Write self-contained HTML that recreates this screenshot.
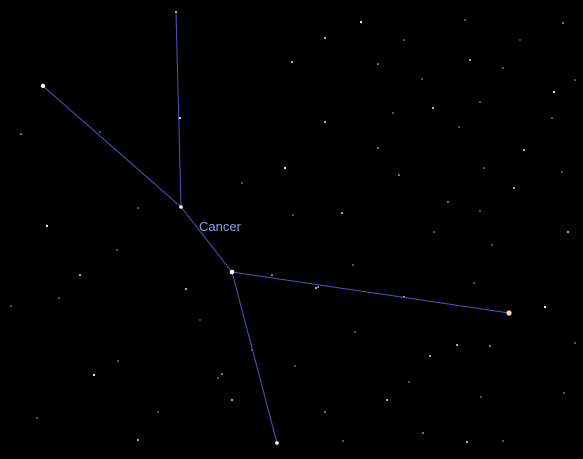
<!DOCTYPE html>
<html><head><meta charset="utf-8"><style>
html,body{margin:0;padding:0;background:#000;width:583px;height:459px;overflow:hidden}
svg{display:block}
</style></head><body>
<svg id="chart" width="583" height="459" viewBox="0 0 583 459">
<rect width="583" height="459" fill="#000"/>
<g id="bg"></g><g id="lines"></g><g id="main"></g>
<text x="199" y="231" font-family="Liberation Sans, sans-serif" font-size="13" fill="#8aa2ee">Cancer</text>
</svg>
<script>
const bgX=[361,465,404,325,563,520,470,503,378,292,422,575,554,480,393,433,21,100,325,459,378,524,552,242,285,484,562,514,399,293,342,480,448,568,434,492,47,138,117,80,272,59,186,353,318,404,474,11,545,200,355,457,490,575,430,295,222,387,409,481,94,564,158,232,325,37,467,503,423,138,343,118,180,252,218,316];
const bgY=[22,20,40,38,23,40,60,68,64,62,79,80,92,102,113,108,134,132,122,127,148,150,118,183,168,168,172,188,175,215,213,211,202,232,232,245,226,208,250,275,275,298,289,265,287,297,283,306,307,320,332,345,346,343,356,366,374,400,382,397,375,393,412,400,412,418,442,441,433,440,441,361,118,350,378,288];
const mainNames=['star-iota','star-gamma','star-delta','star-alpha','star-beta','star-top'];
const mainX=[43,181,232,509,277,176];
const mainY=[86,207,272,313,443,12];
const mainR=[2.2,1.8,2.3,2.6,1.8,1];
const mainColor=['#fff','#fff','#fff','#ffd9a0','#fff','#ddd'];
const edgeFrom=[0,5,1,2,2];
const edgeTo=[1,1,2,3,4];
const NS='http://www.w3.org/2000/svg';
const bg=document.getElementById('bg'),ln=document.getElementById('lines'),mn=document.getElementById('main');
for(let i=0;i<bgX.length;i++){
 const c=document.createElementNS(NS,'circle');
 c.setAttribute('cx',bgX[i]);c.setAttribute('cy',bgY[i]);c.setAttribute('r',i%3===0?1.1:0.8);
 c.setAttribute('fill',i%4===0?'#fff':'#bbb');
 
 
 bg.appendChild(c);
}
for(let i=0;i<edgeFrom.length;i++){
 const l=document.createElementNS(NS,'line');
 l.setAttribute('x1',mainX[edgeFrom[i]]);l.setAttribute('y1',mainY[edgeFrom[i]]);
 l.setAttribute('x2',mainX[edgeTo[i]]);l.setAttribute('y2',mainY[edgeTo[i]]);
 l.setAttribute('stroke','#4a55c8');l.setAttribute('stroke-width','1');
 
 
 ln.appendChild(l);
}
for(let i=0;i<mainX.length;i++){
 const c=document.createElementNS(NS,'circle');
 c.setAttribute('cx',mainX[i]);c.setAttribute('cy',mainY[i]);c.setAttribute('r',mainR[i]);
 c.setAttribute('fill',mainColor[i]);
 
 
 mn.appendChild(c);
}
</script>
</body></html>
